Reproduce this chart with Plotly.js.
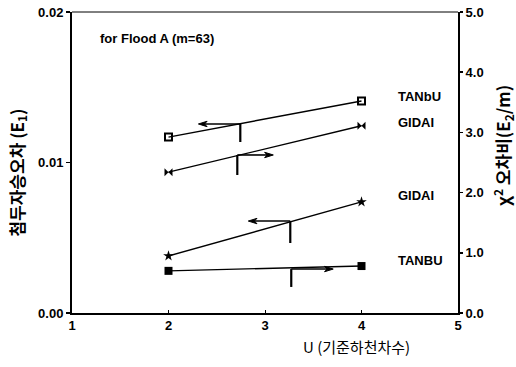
<!DOCTYPE html>
<html>
<head>
<meta charset="utf-8">
<script src="https://cdn.plot.ly/plotly-3.0.1.min.js"></script>
<style>html,body{margin:0;padding:0;background:#fff;}#chart{width:516px;height:367px;}</style>
</head>
<body>
<div id="chart"></div>
<script>
// Data
const orders = [2, 4];                 // U (기준하천차수)
const tanbuUpperE1 = [0.01169, 0.01409];   // TANbU, left axis (E1)
const gidaiUpperChi = [2.34, 3.11];        // GIDAI, right axis (χ² ratio)
const gidaiLowerE1 = [0.00379, 0.00738];   // GIDAI, left axis (E1)
const tanbuLowerChi = [0.70, 0.78];        // TANBU, right axis (χ² ratio)
const seriesLabels = ['TANbU', 'GIDAI', 'GIDAI', 'TANBU'];
const xTicks = [1, 2, 3, 4, 5];
const leftTicks = [0, 0.01, 0.02];
const leftTickText = ['0.00', '0.01', '0.02'];
const rightTicks = [0, 1, 2, 3, 4, 5];

const bold = {family: 'Liberation Sans, Arial, sans-serif', size: 13, color: '#000', weight: 'bold'};

const lineStyle = {color: '#000', width: 1.4};
const traces = [
  {x: orders, y: tanbuUpperE1, yaxis: 'y', mode: 'lines+markers', line: lineStyle,
   marker: {symbol: 'square-open', size: 7, color: '#000', line: {width: 2, color: '#000'}}},
  {x: orders, y: gidaiUpperChi, yaxis: 'y2', mode: 'lines+markers', line: lineStyle,
   marker: {symbol: 'bowtie', size: 8, color: '#000'}},
  {x: orders, y: gidaiLowerE1, yaxis: 'y', mode: 'lines+markers', line: lineStyle,
   marker: {symbol: 'star', size: 8, color: '#000'}},
  {x: orders, y: tanbuLowerChi, yaxis: 'y2', mode: 'lines+markers', line: lineStyle,
   marker: {symbol: 'square', size: 8, color: '#000'}}
];

// label y positions (left-axis units) next to line ends
const labelY = [0.01438, 0.01265, 0.00784, 0.00352];
const annotations = seriesLabels.map((t, i) => ({
  x: 4.36, y: labelY[i], xref: 'x', yref: 'y', text: t, showarrow: false,
  xanchor: 'left', yanchor: 'middle', font: bold
}));
annotations.push({
  x: (98 - 71.5) / 386.5, y: (313 - 38) / 301, xref: 'paper', yref: 'paper',
  text: 'for Flood A (m=63)', showarrow: false, xanchor: 'left', yanchor: 'middle', font: bold
});
// axis titles
annotations.push({x: (356 - 71.5) / 386.5, y: (313 - 346) / 301, xref: 'paper', yref: 'paper',
  text: 'U (기준하천차수)', showarrow: false, xanchor: 'center', yanchor: 'middle',
  font: {family: 'Noto Sans CJK KR, sans-serif', size: 15, color: '#000'}});
annotations.push({x: (16 - 71.5) / 386.5, y: (313 - 173) / 301, xref: 'paper', yref: 'paper',
  text: '첨두자승오차 (E<sub>1</sub>)', textangle: -90, showarrow: false, xanchor: 'center', yanchor: 'middle',
  font: {family: 'Noto Sans CJK KR, sans-serif', size: 17, color: '#000', weight: 'bold'}});
annotations.push({x: (503 - 71.5) / 386.5, y: (313 - 145) / 301, xref: 'paper', yref: 'paper',
  text: 'χ<sup>2</sup> 오차비(E<sub>2</sub>/m)', textangle: -90, showarrow: false, xanchor: 'center', yanchor: 'middle',
  font: {family: 'Noto Sans CJK KR, sans-serif', size: 17, color: '#000', weight: 'bold'}});

// direction arrows (decorations): [headX, tailX, y, yBottomOfTick, tickX]
const arrows = [
  [2.31, 2.744, 0.01256, 0.01136, 2.744],
  [3.086, 2.713, 0.0105, 0.00917, 2.713],
  [2.827, 3.262, 0.00611, 0.00465, 3.262],
  [3.707, 3.272, 0.00292, 0.00173, 3.272]
];
const shapes = [];
arrows.forEach(a => {
  const [hx, tx, y, yb, vx] = a;
  const d = hx < tx ? 1 : -1;          // direction back from head toward tail
  const L = 0.09, H = 0.00018;
  shapes.push({type: 'line', xref: 'x', yref: 'y', x0: tx, x1: hx + d * L * 0.6, y0: y, y1: y,
    line: {color: '#000', width: 1.6}});
  shapes.push({type: 'path', xref: 'x', yref: 'y',
    path: `M ${hx} ${y} L ${hx + d * L} ${y + H} L ${hx + d * L * 0.7} ${y} L ${hx + d * L} ${y - H} Z`,
    fillcolor: '#000', line: {color: '#000', width: 1}});
  shapes.push({type: 'line', xref: 'x', yref: 'y', x0: vx, x1: vx, y0: y, y1: yb,
    line: {color: '#000', width: 2.2}});
});
shapes.push({type: 'line', xref: 'paper', yref: 'paper', x0: 0, x1: 1, y0: 1, y1: 1, line: {color: '#000', width: 1}});

const layout = {
  width: 516, height: 367,
  margin: {l: 71.5, r: 58, t: 12, b: 54, pad: 0},
  paper_bgcolor: '#fff', plot_bgcolor: '#fff',
  showlegend: false,
  xaxis: {range: [1, 5], tickvals: xTicks, ticks: 'inside', ticklen: 3, tickwidth: 1, tickcolor: '#000',
    showline: true, linecolor: '#000', linewidth: 1.5, showgrid: false, zeroline: false,
    tickfont: bold, fixedrange: true},
  yaxis: {range: [0, 0.02], tickvals: leftTicks, ticktext: leftTickText, ticks: 'outside', ticklen: 4,
    tickcolor: '#000', tickwidth: 1.5, showline: true, linecolor: '#000', linewidth: 2, showgrid: false,
    zeroline: false, tickfont: bold},
  yaxis2: {range: [0, 5], overlaying: 'y', side: 'right', tickvals: rightTicks, tickformat: '.1f',
    ticks: 'outside', ticklen: 3, tickcolor: '#000', tickwidth: 1.5, showline: true, linecolor: '#000',
    linewidth: 2, showgrid: false, zeroline: false, tickfont: bold},
  annotations: annotations,
  shapes: shapes
};
Plotly.newPlot('chart', traces, layout, {displayModeBar: false, staticPlot: true});
</script>
</body>
</html>
